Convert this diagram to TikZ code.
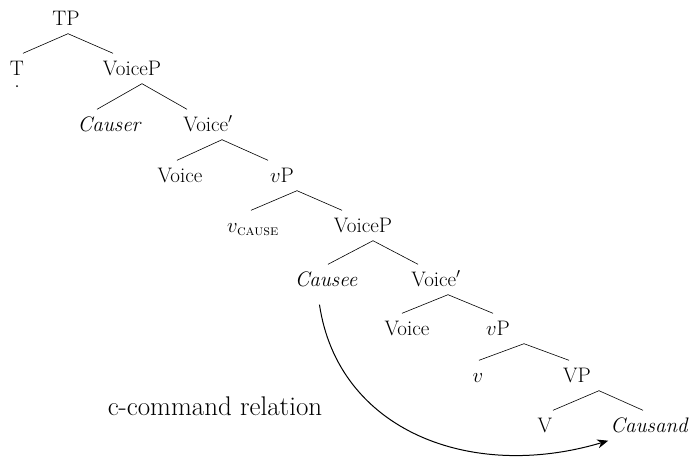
\documentclass[tikz,border=0pt]{standalone}
\usepackage{fontspec}
\usepackage{amsmath}
\usetikzlibrary{arrows.meta}
\begin{document}
\begin{tikzpicture}[x=1pt, y=-1pt,
  every node/.style={font=\fontsize{21}{25}\selectfont, anchor=base,
    text height=13pt, text depth=0pt, inner xsep=2pt, inner ysep=8.5pt},
  branch/.style={line width=0.6pt},
  relation/.style={line width=1pt, -{Stealth[length=11pt, width=9pt]}}]
  \useasboundingbox (0,0) rectangle (691,458);
  \node (TP) at (66,25) {TP};
  \node (T) at (17,75) {T};
  \node (VoiceP) at (132,75) {VoiceP};
  \node (Causer) at (109,131) {\itshape Causer};
  \node (VoiceBar) at (208,131) {Voice$'$};
  \node (Voice) at (180,182) {Voice};
  \node (vP) at (282,182) {$v$P};
  \node (vCause) at (253,232) {$v_{\text{\scshape cause}}$};
  \node (VoicePlow) at (363,232) {VoiceP};
  \node (Causee) at (326,286) {\itshape Causee};
  \node (VoiceBarlow) at (436,286) {Voice$'$};
  \node (Voicelow) at (407,335) {Voice};
  \node (vPlow) at (498,335) {$v$P};
  \node (v) at (478,382) {$v$};
  \node (VP) at (577,382) {VP};
  \node (V) at (545,432) {V};
  \node (Causand) at (649,432) {\itshape Causand};
  \node[font=\fontsize{27}{32}\selectfont] (ccom) at (215,415) {c-command relation};
  \fill (17,86) circle (1pt);
  % roofs: apex a bit right of the mother, ends a bit inside the daughters
  \draw[branch] ([xshift=2pt]TP.south) -- ([xshift=6pt]T.north);
  \draw[branch] ([xshift=2pt]TP.south) -- ([xshift=-19pt]VoiceP.north);
  \draw[branch] ([xshift=10pt]VoiceP.south) -- ([xshift=-12pt]Causer.north);
  \draw[branch] ([xshift=10pt]VoiceP.south) -- ([xshift=-21pt]VoiceBar.north);
  \draw[branch] ([xshift=14pt]VoiceBar.south) -- ([xshift=-3pt]Voice.north);
  \draw[branch] ([xshift=14pt]VoiceBar.south) -- ([xshift=-14pt]vP.north);
  \draw[branch] ([xshift=15pt]vP.south) -- ([xshift=-2pt]vCause.north);
  \draw[branch] ([xshift=15pt]vP.south) -- ([xshift=-21pt]VoicePlow.north);
  \draw[branch] ([xshift=10pt]VoicePlow.south) -- ([xshift=2pt]Causee.north);
  \draw[branch] ([xshift=10pt]VoicePlow.south) -- ([xshift=-18pt]VoiceBarlow.north);
  \draw[branch] ([xshift=12pt]VoiceBarlow.south) -- ([xshift=-5pt]Voicelow.north);
  \draw[branch] ([xshift=12pt]VoiceBarlow.south) -- ([xshift=-5pt]vPlow.north);
  \draw[branch] ([xshift=26pt]vPlow.south) -- ([xshift=1pt]v.north);
  \draw[branch] ([xshift=26pt]vPlow.south) -- ([xshift=-8pt]VP.north);
  \draw[branch] ([xshift=22pt]VP.south) -- ([xshift=8pt]V.north);
  \draw[branch] ([xshift=22pt]VP.south) -- ([xshift=-6pt]Causand.north);
  \draw[relation, shorten <=10pt] ([xshift=-8pt]Causee.south)
    .. controls (338,430) and (470,482) .. (Causand.south west);
\end{tikzpicture}
\end{document}
